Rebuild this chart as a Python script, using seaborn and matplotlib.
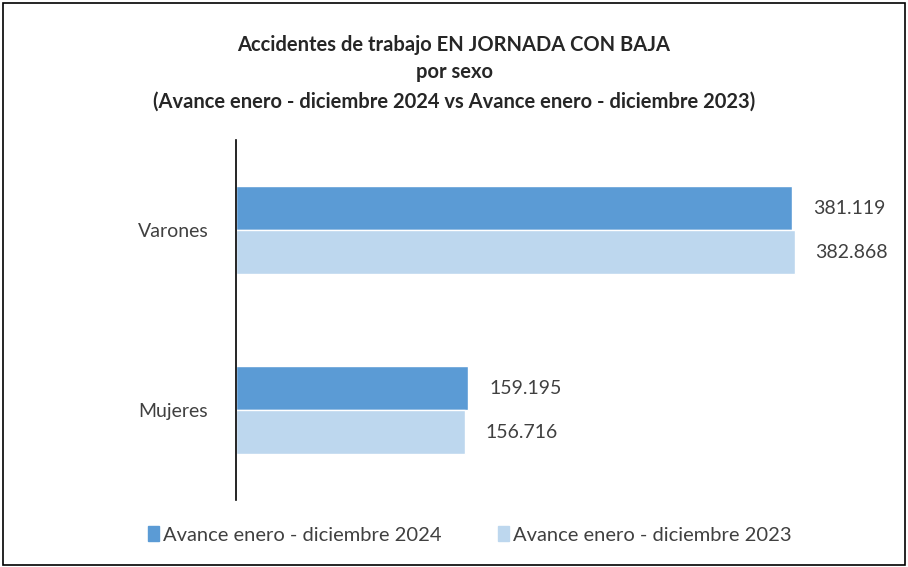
import matplotlib
matplotlib.use("Agg")
import matplotlib.pyplot as plt
import matplotlib.patches as mpatches
import seaborn as sns
import pandas as pd

categories = ["Varones", "Mujeres"]
series = ["Avance enero - diciembre 2024", "Avance enero - diciembre 2023"]
values_2024 = [381119, 159195]
values_2023 = [382868, 156716]
colors = ["#5b9bd5", "#bdd7ee"]

data = pd.DataFrame(
    {
        "Sexo": categories * 2,
        "Periodo": [series[0]] * 2 + [series[1]] * 2,
        "Accidentes": values_2024 + values_2023,
    }
)

sns.set_theme(style="white")
plt.rcParams["font.family"] = ["Lato", "DejaVu Sans"]
text_color = "#404040"

fig = plt.figure(figsize=(9.08, 5.67), dpi=100)
ax = fig.add_axes([0.26, 0.118, 0.723, 0.635])

sns.barplot(
    data=data,
    y="Sexo",
    x="Accidentes",
    hue="Periodo",
    hue_order=series,
    order=categories,
    palette=colors,
    orient="h",
    width=0.49,
    gap=0,
    saturation=1,
    legend=False,
    ax=ax,
)

for container in ax.containers:
    ax.bar_label(
        container,
        labels=[f"{v:,.0f}".replace(",", ".") for v in container.datavalues],
        padding=15,
        fontsize=14,
        color=text_color,
    )

ax.set_xlim(0, 450000)
ax.set_ylim(1.5, -0.5)
ax.set_xlabel("")
ax.set_ylabel("")
ax.set_xticks([])
for side in ["top", "right", "bottom"]:
    ax.spines[side].set_visible(False)
ax.spines["left"].set_color("black")
ax.spines["left"].set_linewidth(1.2)
ax.tick_params(axis="y", length=0, pad=20, labelsize=14, labelcolor=text_color)

title_kw = dict(ha="center", va="center", fontsize=14.5, fontweight="bold", color="#262626")
fig.text(0.5, 0.92, "Accidentes de trabajo EN JORNADA CON BAJA", **title_kw)
fig.text(0.5, 0.873, "por sexo", **title_kw)
fig.text(0.5, 0.82, "(Avance enero - diciembre 2024 vs Avance enero - diciembre 2023)", **title_kw)

handles = [mpatches.Patch(color=c, label=s) for c, s in zip(colors, series)]
leg = fig.legend(
    handles=handles,
    loc="center",
    bbox_to_anchor=(0.517, 0.057),
    ncol=2,
    frameon=False,
    fontsize=14.5,
    handlelength=0.55,
    handleheight=0.8,
    handletextpad=0.2,
    columnspacing=2.8,
)
for t in leg.get_texts():
    t.set_color(text_color)

fig.patches.append(
    mpatches.Rectangle((0.003, 0.004), 0.994, 0.99, transform=fig.transFigure,
                       fill=False, edgecolor="black", linewidth=1.2)
)

fig.savefig("out.png", dpi=100)
